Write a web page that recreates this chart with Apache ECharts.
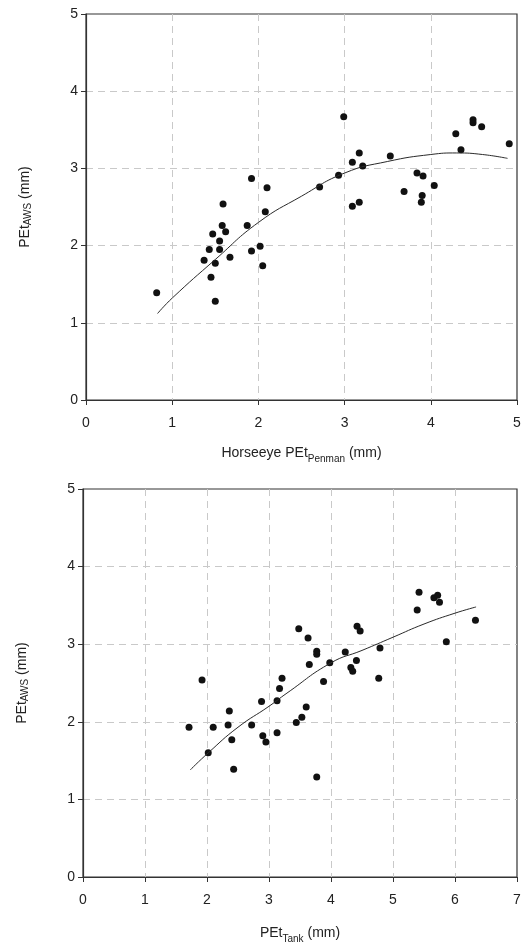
<!DOCTYPE html>
<html>
<head>
<meta charset="utf-8">
<title>PEt AWS comparison</title>
<script src="https://cdn.jsdelivr.net/npm/echarts@6/dist/echarts.min.js"></script>
<style>
  html, body { margin: 0; padding: 0; background: #ffffff; }
  #chart { width: 528px; height: 945px; }
</style>
</head>
<body>
<div id="chart"></div>
<script>
// Top panel: Horseeye PEt (Penman) vs PEt AWS
const penmanX = [0.82, 1.92, 2.10, 1.59, 2.08, 1.58, 1.62, 1.87, 1.47, 1.55,
                 1.43, 1.55, 2.02, 1.92, 1.37, 1.67, 1.50, 2.05, 1.45, 1.50,
                 2.99, 3.17, 3.09, 3.21, 2.93, 2.71, 3.09, 3.17, 3.53, 3.84,
                 3.91, 3.69, 4.04, 3.90, 3.89, 4.29, 4.35, 4.49, 4.49, 4.59, 4.91];
const penmanY = [1.39, 2.87, 2.75, 2.54, 2.44, 2.26, 2.18, 2.26, 2.15, 2.06,
                 1.95, 1.95, 1.99, 1.93, 1.81, 1.85, 1.77, 1.74, 1.59, 1.28,
                 3.67, 3.20, 3.08, 3.03, 2.91, 2.76, 2.51, 2.56, 3.16, 2.94,
                 2.90, 2.70, 2.78, 2.65, 2.56, 3.45, 3.24, 3.63, 3.59, 3.54, 3.32];
// trend curve
const penmanFitX = [0.83, 1.0, 1.5, 2.0, 2.5, 3.0, 3.5, 4.0, 4.3, 4.6, 4.89];
const penmanFitY = [1.12, 1.32, 1.82, 2.30, 2.64, 2.94, 3.09, 3.18, 3.20, 3.18, 3.13];

// Bottom panel: PEt (Tank) vs PEt AWS
const tankX = [1.71, 1.92, 2.10, 2.02, 2.36, 2.34, 2.40, 2.43, 2.72, 2.88,
               2.90, 2.95, 3.13, 3.13, 3.17, 3.21, 3.48, 3.44, 3.53, 3.60,
               3.63, 3.77, 3.77, 3.65, 3.77, 3.88, 3.98, 4.23, 4.32, 4.35,
               4.41, 4.42, 4.47, 4.77, 4.79, 5.39, 5.42, 5.66, 5.72, 5.75, 5.86, 6.33];
const tankY = [1.93, 2.54, 1.93, 1.60, 2.14, 1.96, 1.77, 1.39, 1.96, 2.26,
               1.82, 1.74, 1.86, 2.27, 2.43, 2.56, 3.20, 1.99, 2.06, 2.19,
               3.08, 2.91, 2.87, 2.74, 1.29, 2.52, 2.76, 2.90, 2.70, 2.65,
               2.79, 3.23, 3.17, 2.56, 2.95, 3.44, 3.67, 3.60, 3.63, 3.54, 3.03, 3.31];
const tankFitX = [1.73, 2.02, 2.5, 3.0, 3.29, 4.0, 4.5, 5.0, 5.5, 6.0, 6.34];
const tankFitY = [1.38, 1.60, 1.93, 2.20, 2.37, 2.76, 2.92, 3.09, 3.26, 3.40, 3.48];

const yTicks = [0, 1, 2, 3, 4, 5];
const topXTicks = [0, 1, 2, 3, 4, 5];
const bottomXTicks = [0, 1, 2, 3, 4, 5, 6, 7];

const FONT = '"Liberation Sans", Arial, sans-serif';
const INK = '#222222';

function pairs(xs, ys) {
    return xs.map(function (x, i) { return [x, ys[i]]; });
}

// shared axis look
function valueAxis(gridIndex, ticks, extra) {
    const axis = {
        type: 'value',
        gridIndex: gridIndex,
        min: ticks[0],
        max: ticks[ticks.length - 1],
        interval: 1,
        axisLine: { show: true, onZero: false, lineStyle: { color: '#333', width: 1.2 } },
        axisTick: { show: true, length: 5, lineStyle: { color: '#333' } },
        axisLabel: { color: INK, fontSize: 14, fontFamily: FONT },
        splitLine: {
            show: true,
            showMinLine: false,
            showMaxLine: false,
            lineStyle: { color: '#c9c9c9', width: 1, type: [7, 5] }
        },
        nameLocation: 'middle',
        nameTextStyle: {
            rich: {
                a: { fontSize: 14, color: INK, fontFamily: FONT, lineHeight: 16 },
                small: { fontSize: 10, color: INK, fontFamily: FONT, lineHeight: 16, verticalAlign: 'bottom' },
                sub: { fontSize: 10, color: INK, fontFamily: FONT, lineHeight: 21, verticalAlign: 'bottom' }
            }
        }
    };
    return Object.assign(axis, extra);
}

function initChart() {
    const chart = echarts.init(document.getElementById('chart'), null, { renderer: 'canvas' });

    const option = {
        animation: false,
        backgroundColor: '#ffffff',
        grid: [
            { left: 86, top: 14, width: 431, height: 386, show: true, borderColor: '#333', borderWidth: 1.2 },
            { left: 83, top: 489, width: 434, height: 391, show: true, borderColor: '#333', borderWidth: 1.2 }
        ],
        xAxis: [
            valueAxis(0, topXTicks, {
                name: '{a|Horseeye PEt}{sub|Penman}{a| (mm)}',
                nameGap: 43,
                axisLabel: { color: INK, fontSize: 14, fontFamily: FONT, margin: 16 }
            }),
            valueAxis(1, bottomXTicks, {
                name: '{a|PEt}{sub|Tank}{a| (mm)}',
                nameGap: 46,
                axisLabel: { color: INK, fontSize: 14, fontFamily: FONT, margin: 16 }
            })
        ],
        yAxis: [
            valueAxis(0, yTicks, {
                name: '{a|PEt}{small|AWS}{a| (mm)}',
                nameGap: 53,
                axisLabel: { color: INK, fontSize: 14, fontFamily: FONT, margin: 8 }
            }),
            valueAxis(1, yTicks, {
                name: '{a|PEt}{small|AWS}{a| (mm)}',
                nameGap: 53,
                axisLabel: { color: INK, fontSize: 14, fontFamily: FONT, margin: 8 }
            })
        ],
        series: [
            {
                type: 'scatter',
                xAxisIndex: 0,
                yAxisIndex: 0,
                symbolSize: 7,
                itemStyle: { color: '#111111', opacity: 1 },
                data: pairs(penmanX, penmanY)
            },
            {
                type: 'line',
                xAxisIndex: 0,
                yAxisIndex: 0,
                smooth: true,
                showSymbol: false,
                lineStyle: { color: '#2a2a2a', width: 1 },
                data: pairs(penmanFitX, penmanFitY)
            },
            {
                type: 'scatter',
                xAxisIndex: 1,
                yAxisIndex: 1,
                symbolSize: 7,
                itemStyle: { color: '#111111', opacity: 1 },
                data: pairs(tankX, tankY)
            },
            {
                type: 'line',
                xAxisIndex: 1,
                yAxisIndex: 1,
                smooth: true,
                showSymbol: false,
                lineStyle: { color: '#2a2a2a', width: 1 },
                data: pairs(tankFitX, tankFitY)
            }
        ]
    };

    chart.setOption(option);
    return chart;
}

document.addEventListener('DOMContentLoaded', function () {
    if (typeof echarts !== 'undefined') {
        initChart();
    } else {
        console.error('ECharts library not loaded');
    }
});
</script>
</body>
</html>
